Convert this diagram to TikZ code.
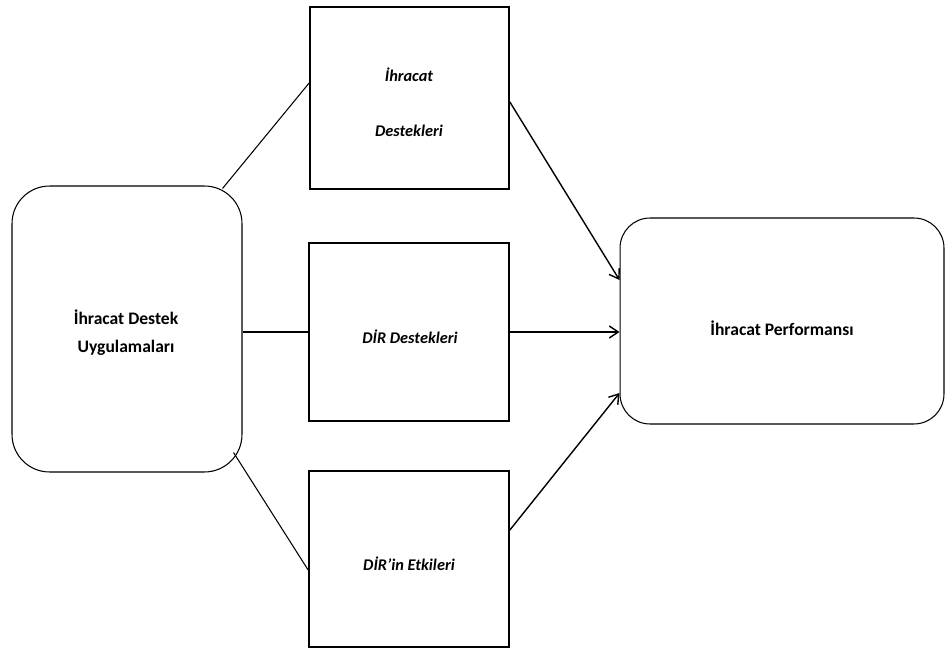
\documentclass[tikz,border=0pt]{standalone}
\usepackage{fontspec}
\setmainfont{Carlito}
\usetikzlibrary{positioning, shapes, arrows.meta}

\begin{document}
\begin{tikzpicture}[
    x=0.02cm, y=-0.02cm,
    every node/.style={align=center,font=\bfseries\fontsize{10}{15.9}\selectfont},
    kutu/.style={draw, line width=1pt, inner sep=0pt},
    yuvarlak/.style={draw, line width=0.6pt, rounded corners=#1, inner sep=0pt},
    etiket/.style={font=\bfseries\itshape\fontsize{9.3}{12}\selectfont},
    baglanti/.style={line width=0.6pt},
    ok/.style={line width=0.8pt, -{Straight Barb[length=1.8mm,width=2.4mm]}}
]
    \useasboundingbox (0,0) rectangle (945,648);

    % rounded boxes, left and right
    \node[yuvarlak=0.75cm, minimum width=4.6cm, minimum height=5.72cm] (uyg) at (127,329) {};
    \node[anchor=base] (uyglbl) at (126,352) {İhracat Destek\\Uygulamaları};
    \node[yuvarlak=0.6cm, minimum width=6.48cm, minimum height=4.12cm] (perf) at (782,321) {};
    \node[anchor=base] (perflbl) at (782,335) {İhracat Performansı};

    % the three boxes in the middle
    \node[kutu, minimum width=3.98cm, minimum height=3.64cm] (ihr) at (409.5,98) {};
    \node[etiket, font=\bfseries\itshape\fontsize{9.3}{31.8}\selectfont, anchor=base] (ihrlbl) at (409,137) {İhracat\\Destekleri};
    \node[kutu, minimum width=4cm, minimum height=3.56cm] (dir) at (409,332) {};
    \node[etiket, anchor=base] (dirlbl) at (410,343) {DİR Destekleri};
    \node[kutu, minimum width=4cm, minimum height=3.52cm] (etk) at (409,559) {};
    \node[etiket, anchor=base] (etklbl) at (409,570) {DİR’in Etkileri};

    % plain lines from the left box
    \draw[baglanti] ([xshift=-0.4cm, yshift=-0.06cm]uyg.north east) -- ([yshift=0.3cm]ihr.west);
    \draw[baglanti] (dir.west -| uyg.east) -- (dir.west);
    \draw[baglanti] ([xshift=-0.18cm, yshift=0.4cm]uyg.south east) -- ([yshift=-0.22cm]etk.west);

    % arrows into the right box
    \draw[ok] ([yshift=-0.08cm]ihr.east) -- ([yshift=0.82cm]perf.west);
    \draw[ok] (dir.east) -- (dir.east -| perf.west);
    \draw[ok] ([yshift=0.58cm]etk.east) -- ([yshift=-1.44cm]perf.west);
\end{tikzpicture}
\end{document}
